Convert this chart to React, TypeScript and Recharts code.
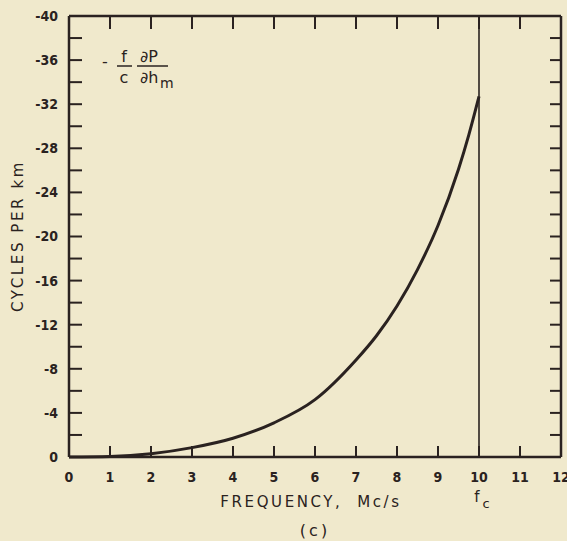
import React from 'react';
import { LineChart, Line, XAxis, YAxis, ReferenceLine, Customized } from 'recharts';

// Frequency (Mc/s) and the derivative term in cycles per km
const frequency = [0, 1, 2, 3, 4, 5, 6, 7, 7.5, 8, 8.5, 9, 9.5, 9.75, 10];
const cyclesPerKm = [0, -0.05, -0.3, -0.85, -1.7, -3.1, -5.2, -8.8, -11.0, -13.7, -17.0, -21.0, -26.1, -29.2, -32.7];

const xTicks = [0, 1, 2, 3, 4, 5, 6, 7, 8, 9, 10, 11, 12];
const yTicks = [-40, -38, -36, -34, -32, -30, -28, -26, -24, -22, -20, -18, -16, -14, -12, -10, -8, -6, -4, -2, 0];
const yLabelStep = 4;
const cutoffFrequency = 10;

const xAxisTitle = 'FREQUENCY,\u00a0 Mc/s';
const yAxisTitle = 'CYCLES PER km';
const panelTag = '(c)';

const INK = '#2a2220';
const PAPER = '#f0e9cc';
const NARROW = "'Liberation Sans Narrow', 'DejaVu Sans Condensed', sans-serif";
const SANS = "'DejaVu Sans', 'Liberation Sans', sans-serif";

const data = frequency.map((f, i) => ({ f, v: cyclesPerKm[i] }));

const tickStyle = { fill: INK, fontSize: 14, fontWeight: 700, fontFamily: NARROW };
const lineStyle = { stroke: INK, strokeWidth: 2 };
const frameStyle = { stroke: INK, strokeWidth: 2.5 };

function Annotations() {
  return (
    <g fill={INK} fontFamily={SANS}>
      {/* -(f/c) dP/dh_m */}
      <g fontSize={16}>
        <text x={102} y={67}>-</text>
        <text x={124} y={62} textAnchor="middle">f</text>
        <line x1={117} x2={132} y1={66} y2={66} stroke={INK} strokeWidth={1.5} />
        <text x={124} y={83} textAnchor="middle">c</text>
        <text x={140} y={62}>∂P</text>
        <line x1={137} x2={168} y1={66} y2={66} stroke={INK} strokeWidth={1.5} />
        <text x={140} y={83}>∂h</text>
        <text x={160} y={88} fontSize={14}>m</text>
      </g>
      <text x={311} y={507} textAnchor="middle" fontSize={15} letterSpacing={2.6}>{xAxisTitle}</text>
      <text
        x={23}
        y={236}
        textAnchor="middle"
        fontSize={15}
        letterSpacing={2.6}
        transform="rotate(-90 23 236)"
      >
        {yAxisTitle}
      </text>
      <text x={315} y={536} textAnchor="middle" fontSize={16} letterSpacing={3}>{panelTag}</text>
      <text x={477} y={502} textAnchor="middle" fontSize={15}>f</text>
      <text x={486} y={508} textAnchor="middle" fontSize={13}>c</text>
    </g>
  );
}

export default function App() {
  return (
    <div style={{ position: 'absolute', left: 0, top: 0, width: 567, height: 541, background: PAPER }}>
      <LineChart width={567} height={541} data={data} margin={{ top: 15, right: 5, bottom: 44, left: 9 }}>
        <XAxis
          xAxisId="b"
          dataKey="f"
          type="number"
          orientation="bottom"
          domain={[0, 12]}
          ticks={xTicks}
          interval={0}
          height={40}
          tickSize={-11}
          tickMargin={26}
          axisLine={frameStyle}
          tickLine={lineStyle}
          tick={tickStyle}
        />
        <XAxis
          xAxisId="t"
          dataKey="f"
          type="number"
          orientation="top"
          domain={[0, 12]}
          ticks={xTicks}
          interval={0}
          height={1}
          tickSize={-13}
          axisLine={frameStyle}
          tickLine={lineStyle}
          tickFormatter={() => ''}
        />
        <YAxis
          yAxisId="l"
          dataKey="v"
          type="number"
          domain={[-40, 0]}
          reversed
          ticks={yTicks}
          interval={0}
          width={60}
          tickSize={-13}
          tickMargin={24}
          axisLine={frameStyle}
          tickLine={lineStyle}
          tick={tickStyle}
          tickFormatter={(v: number) => (v % yLabelStep === 0 ? String(v) : '')}
        />
        <YAxis
          yAxisId="r"
          dataKey="v"
          orientation="right"
          type="number"
          domain={[-40, 0]}
          reversed
          ticks={yTicks}
          interval={0}
          width={1}
          tickSize={-11}
          axisLine={frameStyle}
          tickLine={lineStyle}
          tickFormatter={() => ''}
        />
        <ReferenceLine xAxisId="b" yAxisId="l" x={cutoffFrequency} stroke={INK} strokeWidth={1.6} />
        <Line
          xAxisId="b"
          yAxisId="l"
          dataKey="v"
          type="monotone"
          stroke={INK}
          strokeWidth={3}
          dot={false}
          isAnimationActive={false}
        />
        <Customized component={Annotations} />
      </LineChart>
    </div>
  );
}
